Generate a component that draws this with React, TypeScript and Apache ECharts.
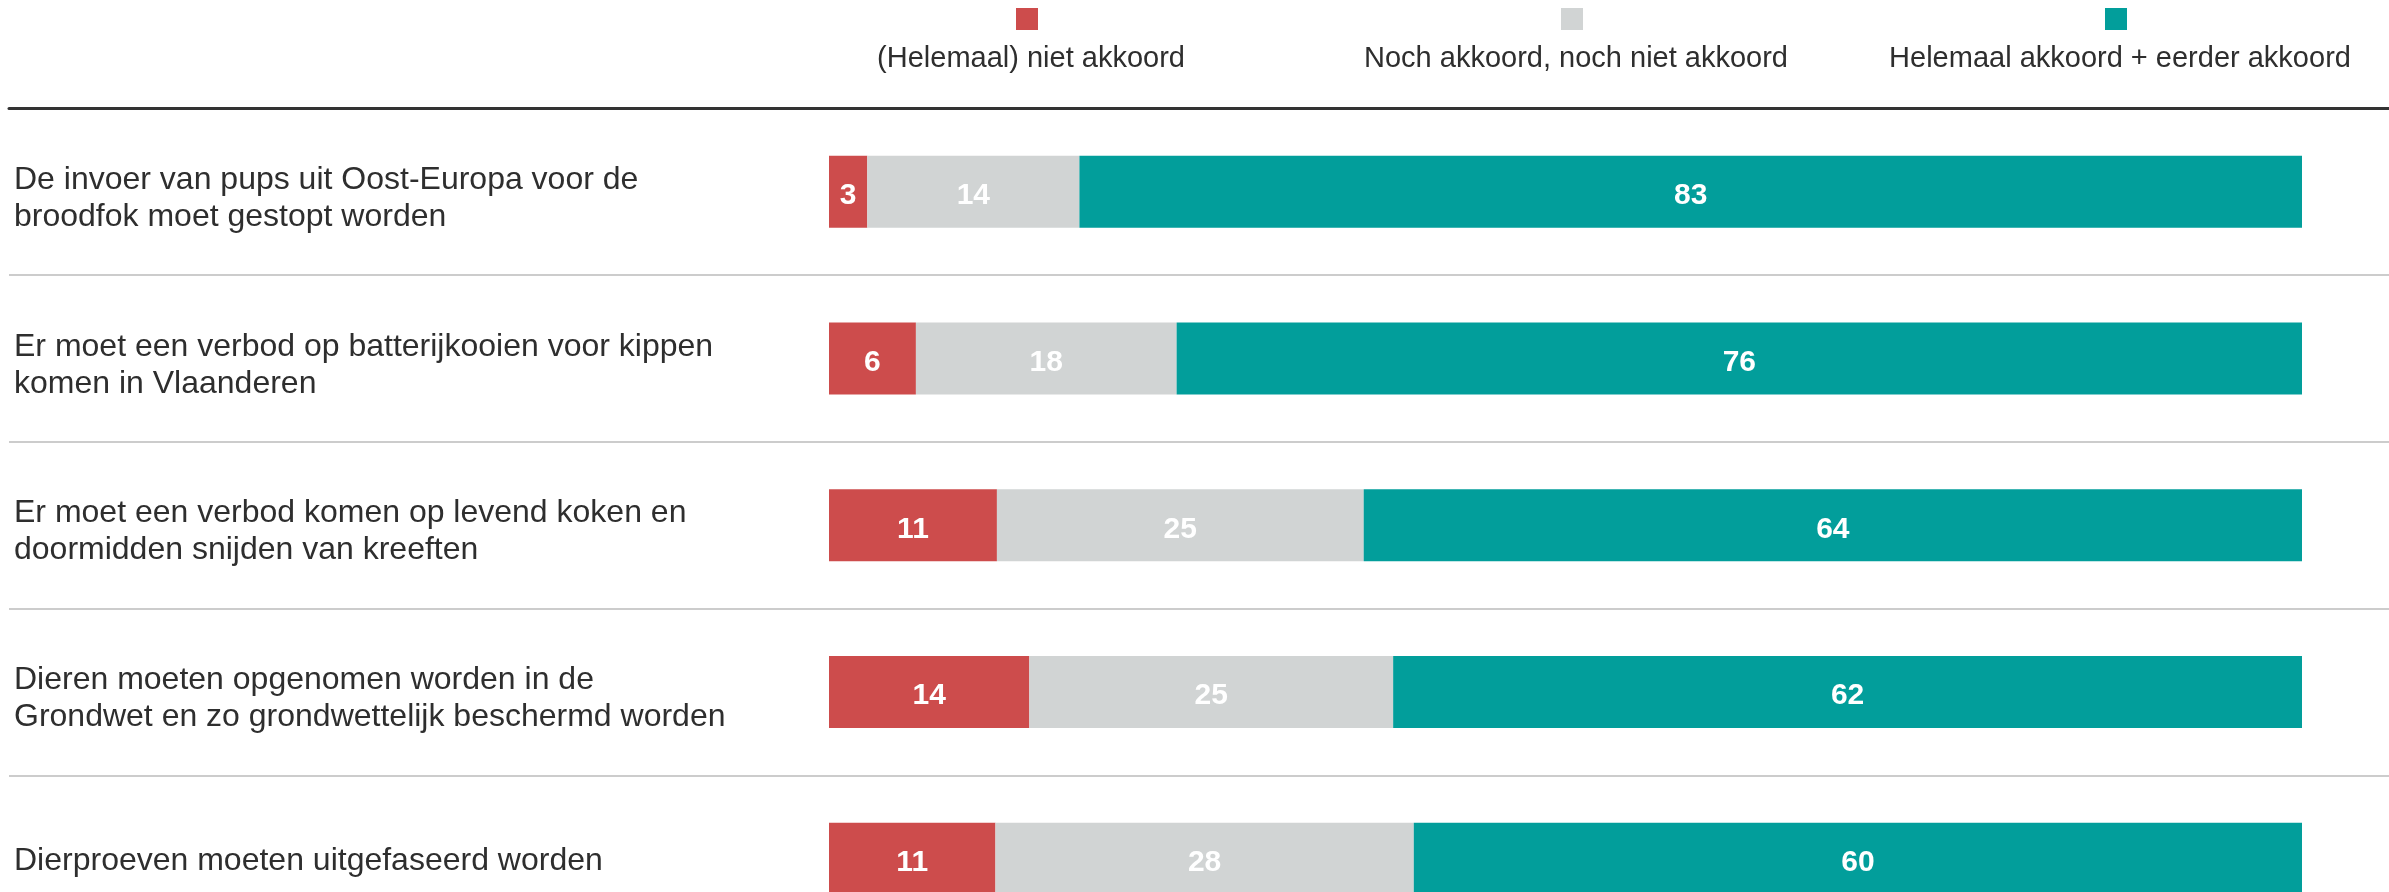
import React, { useEffect, useRef } from "react";
import * as echarts from "echarts";

const categories = [
  "De invoer van pups uit Oost-Europa voor de\nbroodfok moet gestopt worden",
  "Er moet een verbod op batterijkooien voor kippen\nkomen in Vlaanderen",
  "Er moet een verbod komen op levend koken en\ndoormidden snijden van kreeften",
  "Dieren moeten opgenomen worden in de\nGrondwet en zo grondwettelijk beschermd worden",
  "Dierproeven moeten uitgefaseerd worden",
];

const seriesNames = [
  "(Helemaal) niet akkoord",
  "Noch akkoord, noch niet akkoord",
  "Helemaal akkoord + eerder akkoord",
];

const nietAkkoord = [2.6, 5.9, 11.4, 13.6, 11.3];
const neutraal = [14.4, 17.7, 24.9, 24.7, 28.4];
const akkoord = [83.0, 76.4, 63.7, 61.7, 60.3];

const colors = ["#cd4c4c", "#d1d4d4", "#029e9b"];
const FONT = "'Liberation Sans', Arial, Helvetica, sans-serif";
const TEXT = "#2e2e2e";

export default function App() {
  const ref = useRef<HTMLDivElement>(null);

  useEffect(() => {
    if (!ref.current) return;
    const chart = echarts.init(ref.current, undefined, { renderer: "svg" });

    const gridTop = 108.5;
    const gridHeight = 833.5;
    const legendCenters = [1027, 1572, 2116];

    const values = [nietAkkoord, neutraal, akkoord];

    chart.setOption({
      animation: false,
      textStyle: { fontFamily: FONT },
      grid: [
        { left: 829, right: 87, top: gridTop, height: gridHeight },
        { left: 9, right: 0, top: gridTop, height: gridHeight },
      ],
      legend: seriesNames.map((name, i) => ({
        data: [name],
        left: legendCenters[i] - 11,
        top: 8,
        padding: 0,
        itemWidth: 22,
        itemHeight: 22,
        icon: "rect",
        selectedMode: false,
        formatter: () => "",
      })),
      graphic: seriesNames.map((name, i) => ({
        type: "text",
        x: legendCenters[i] + 4,
        y: 57,
        style: {
          text: name,
          fontSize: 29,
          fontFamily: FONT,
          fill: TEXT,
          align: "center",
          verticalAlign: "middle",
        },
      })),
      xAxis: [
        {
          type: "value",
          gridIndex: 0,
          min: 0,
          max: 100,
          show: false,
        },
        {
          type: "value",
          gridIndex: 1,
          min: 0,
          max: 1,
          position: "top",
          axisLine: { show: true, lineStyle: { color: "#333333", width: 3 } },
          axisTick: { show: false },
          axisLabel: { show: false },
          splitLine: { show: false },
        },
      ],
      yAxis: [
        {
          type: "category",
          gridIndex: 0,
          data: categories,
          inverse: true,
          axisLine: { show: false },
          axisTick: { show: false },
          splitLine: { show: false },
          axisLabel: {
            align: "left",
            margin: 815,
            fontSize: 32,
            lineHeight: 37,
            color: TEXT,
            fontFamily: FONT,
            formatter: (v: string) => {
              const lines = v.split("\n");
              const body = lines.map((l) => `{b|${l}}`).join("\n");
              return lines.length > 1 ? `{s| }\n${body}` : body;
            },
            rich: {
              b: { fontSize: 32, lineHeight: 37, color: TEXT, fontFamily: FONT },
              s: { fontSize: 1, lineHeight: 9 },
            },
          },
        },
        {
          type: "category",
          gridIndex: 1,
          data: categories,
          inverse: true,
          axisLine: { show: false },
          axisTick: { show: false },
          axisLabel: { show: false },
          splitLine: { show: true, lineStyle: { color: "#cccccc", width: 2 } },
        },
      ],
      series: seriesNames.map((name, i) => ({
        name,
        type: "bar",
        stack: "total",
        xAxisIndex: 0,
        yAxisIndex: 0,
        barWidth: 72,
        itemStyle: { color: colors[i] },
        data: values[i],
        label: {
          show: true,
          position: "inside",
          offset: [0, 2],
          color: "#ffffff",
          fontWeight: "bold",
          fontSize: 30,
          fontFamily: FONT,
          formatter: (p: any) => String(Math.round(p.value)),
        },
      })),
    });

    return () => chart.dispose();
  }, []);

  return (
    <div
      ref={ref}
      style={{ position: "fixed", left: 0, top: 0, width: "2389px", height: "960px" }}
    />
  );
}
